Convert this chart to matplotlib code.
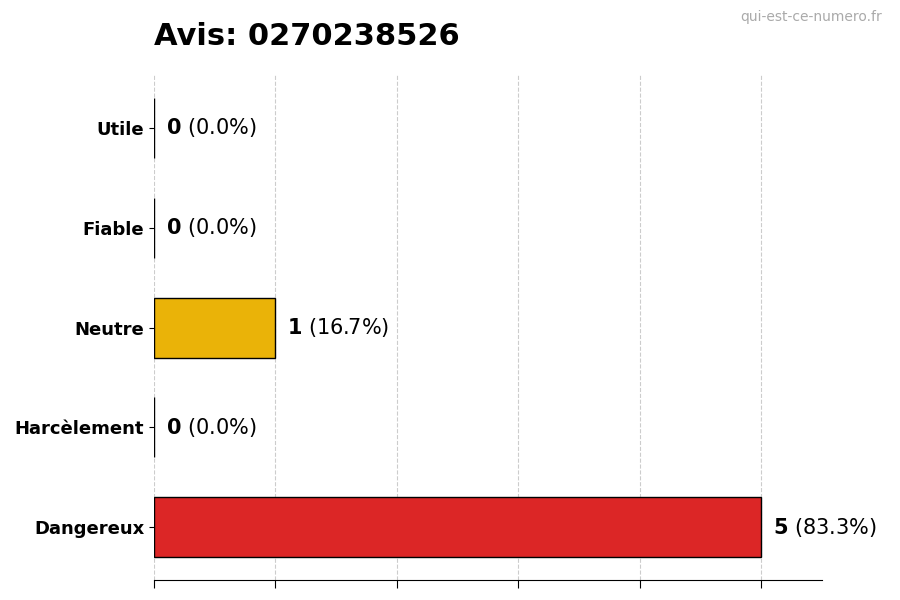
import matplotlib
matplotlib.use("Agg")
import matplotlib.pyplot as plt

categories = ["Dangereux", "Harcèlement", "Neutre", "Fiable", "Utile"]
counts = [5, 0, 1, 0, 0]
percents = [83.3, 0.0, 16.7, 0.0, 0.0]
colors = ["#dc2626", "#6b7280", "#eab308", "#3b82f6", "#16a34a"]

fig = plt.figure(figsize=(9, 6), dpi=100)
ax = fig.add_axes([0.171, 0.033, 0.742, 0.842])
y = range(len(categories))
ax.barh(y, counts, height=0.6, color=colors, edgecolor="black", linewidth=1, zorder=3)
ax.set_xlim(0, 5.5)
ax.set_ylim(-0.53, 4.53)
ax.set_yticks(list(y))
ax.set_yticklabels(categories, fontsize=13, fontweight="bold")
ax.set_xticks([0, 1, 2, 3, 4, 5])
ax.set_xticklabels([])
ax.tick_params(axis="x", length=6)
ax.grid(axis="x", linestyle="--", color="#cccccc", zorder=0)
for s in ["top", "right", "left"]:
    ax.spines[s].set_visible(False)
for i, (c, p) in enumerate(zip(counts, percents)):
    ax.text(c + 0.1, i, f"$\\bf{{{c}}}$ ({p:.1f}%)", va="center", fontsize=15)
fig.text(0.171, 0.925, "Avis: 0270238526", fontsize=22, fontweight="bold")
fig.text(0.98, 0.965, "qui-est-ce-numero.fr", fontsize=10, color="#aaaaaa", ha="right")
fig.savefig("out.png", dpi=100)
